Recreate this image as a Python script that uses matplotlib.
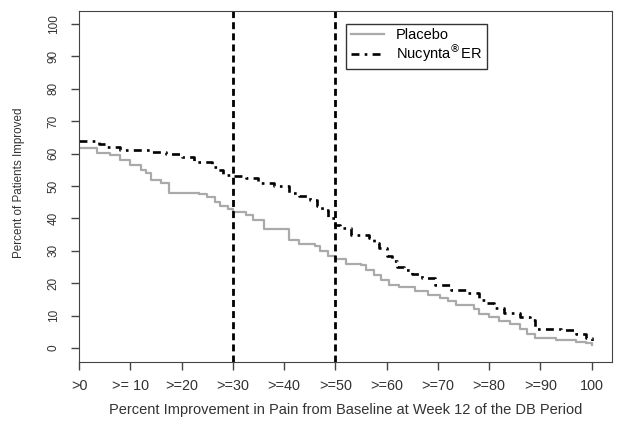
import numpy as np
import matplotlib.pyplot as plt
import matplotlib as mpl

plt.rcParams['font.family'] = ['Liberation Sans', 'DejaVu Sans']

# step curves (x = % improvement, y = % of patients)
placebo_x = [0, 3.5, 6, 8, 10, 12, 13, 14, 16, 17.5, 23.5, 25, 26.5, 27.5, 29, 30,
             32.5, 34, 36, 41, 43, 46, 47, 48.5, 50, 52, 55, 56, 57.5, 59, 60.5,
             62.5, 65.5, 68, 70.5, 72, 73.5, 77, 78, 80, 82, 84, 86, 87.5, 89, 93,
             97, 99, 100]
placebo_y = [61.7, 60.2, 59.6, 58, 56.5, 55, 54, 52, 51, 48, 47.5, 46.5, 45, 44, 43,
             42, 41, 39.5, 36.7, 33.5, 32, 31.5, 30, 28.5, 27.5, 26, 25.5, 24, 22.5,
             21, 19.5, 19, 17.5, 16.5, 15.5, 14.5, 13.3, 12.2, 10.5, 9.5, 8.5, 7.5,
             6, 4.5, 3, 2.5, 2, 1.5, 1]

nucynta_x = [0, 4, 5.5, 8, 14, 17, 20, 22.5, 26, 27, 28, 30, 32.5, 35, 38, 41, 43,
             45, 46.5, 47.5, 48.5, 50, 51, 53, 56.5, 57.5, 58.5, 60, 61, 62, 63.5,
             65, 67, 69.5, 72.5, 75.5, 78, 79.5, 81, 83, 86, 88, 89, 94, 97, 99, 100]
nucynta_y = [64, 63, 62, 61, 60.5, 60, 59, 57.5, 56, 55, 53.5, 53, 52.5, 51, 50, 48,
             47, 45.7, 44, 42.5, 40, 38, 37, 35, 34, 32.5, 31, 28.5, 27, 25, 24, 23,
             21.5, 19.5, 18, 17, 15, 14, 12.5, 10.8, 9.5, 8.6, 6, 5.5, 4.5, 3, 1]

cutoffs = [30, 50]
xtick_pos = [0, 10, 20, 30, 40, 50, 60, 70, 80, 90, 100]
xtick_labels = ['>0', '>= 10', '>=20', '>=30', '>=40', '>=50', '>=60', '>=70',
                '>=80', '>=90', '100']
ytick_pos = [0, 10, 20, 30, 40, 50, 60, 70, 80, 90, 100]

fig = plt.figure(figsize=(6.22, 4.24), dpi=100)
ax = fig.add_axes([0.127, 0.146, 0.857, 0.828])

ax.plot(placebo_x, placebo_y, drawstyle='steps-post', color='#aaaaaa', lw=1.6,
        label='Placebo')
ax.plot(nucynta_x, nucynta_y, drawstyle='steps-post', color='black', lw=1.9,
        dashes=(3, 2, 1, 2), label='Nucynta$^{\\circledR}$ER')

for c in cutoffs:
    ax.axvline(c, color='black', lw=2, dashes=(2.5, 1.5))

ax.set_xlim(0, 104)
ax.set_ylim(-4.3, 104)
ax.set_xticks(xtick_pos)
ax.set_xticklabels(xtick_labels)
ax.set_yticks(ytick_pos)
ax.set_yticklabels([str(v) for v in ytick_pos], rotation=90, va='center')

for s in ax.spines.values():
    s.set_color('#444444')
ax.tick_params(axis='both', colors='#444444', labelcolor='#333333', length=6,
               width=1)
ax.tick_params(axis='x', pad=6, labelsize=10.4)
ax.tick_params(axis='y', pad=8, labelsize=8.5)

ax.set_xlabel('Percent Improvement in Pain from Baseline at Week 12 of the DB Period',
              fontsize=10.5, color='#333333')
ax.set_ylabel('Percent of Patients Improved', fontsize=8.4, color='#333333')
ax.xaxis.set_label_coords(0.5, -0.137)
ax.yaxis.set_label_coords(-0.112, 0.51)
ax.xaxis.label.set_va('center')
ax.yaxis.label.set_va('center')

leg = ax.legend(loc='upper left', bbox_to_anchor=(0.488, 0.985), fontsize=10.5,
                fancybox=False, framealpha=1, edgecolor='#333333',
                handlelength=2.3, handletextpad=0.8, borderpad=0.3,
                labelspacing=0.0)
leg.get_frame().set_linewidth(1)

plt.savefig('out.png', dpi=100)
